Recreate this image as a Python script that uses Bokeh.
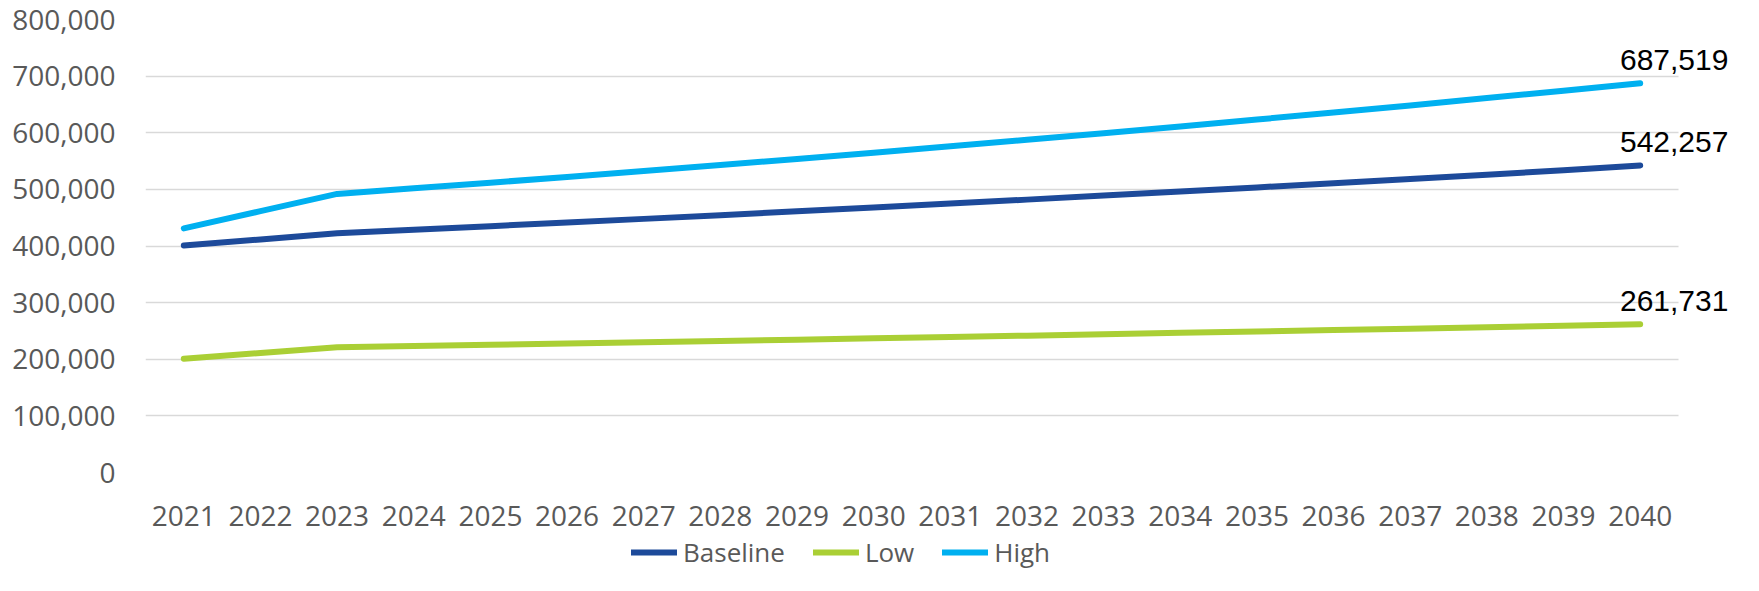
from bokeh.plotting import figure
from bokeh.layouts import column
from bokeh.models import (NumeralTickFormatter, FixedTicker, ColumnDataSource,
                          Legend, LegendItem, Range1d)
from bokeh.core.properties import value
from bokeh.embed import file_html
from bokeh.resources import INLINE

years = [2021, 2022, 2023, 2024, 2025, 2026, 2027, 2028, 2029, 2030,
         2031, 2032, 2033, 2034, 2035, 2036, 2037, 2038, 2039, 2040]

baseline = [401000, 411500, 422500, 428700, 435000, 441400, 447900, 454500,
            461200, 468000, 474900, 481900, 489000, 496200, 503500, 510900,
            518400, 526000, 533700, 542257]
low = [201000, 211000, 221000, 223200, 225400, 227700, 230000, 232300,
       234600, 236900, 239300, 241700, 244100, 246600, 249000, 251500,
       254000, 256600, 259100, 261731]
high = [431000, 461500, 492000, 501800, 511800, 522000, 532400, 543000,
        553800, 564800, 576000, 587500, 599200, 611100, 623300, 635700,
        648300, 661200, 674200, 687519]

series_names = ["Baseline", "Low", "High"]
series_values = [baseline, low, high]
series_colors = ["#1D4A9A", "#AACF35", "#00B0F0"]

y_ticks = [0, 100000, 200000, 300000, 400000, 500000, 600000, 700000, 800000]

# x extent: half a year either side of the data, plus room on the right
# for the end-point labels (grid lines are limited to the data slots)
x_start = years[0] - 0.5
x_end = years[-1] + 0.5
x_view_end = x_end + 0.848

p = figure(x_range=Range1d(x_start, x_view_end),
           y_range=Range1d(0, 800000),
           frame_width=1598, frame_height=453,
           output_backend="svg", toolbar_location=None,
           min_border_left=145, min_border_right=0, min_border_top=19,
           min_border_bottom=60)

p.outline_line_color = None
p.background_fill_color = "white"
p.border_fill_color = "white"

# grid
p.xgrid.grid_line_color = None
p.ygrid.grid_line_color = "#D9D9D9"
p.ygrid.grid_line_width = 1.6
try:
    p.ygrid.cross_bounds = (x_start, x_end)
except Exception:
    p.ygrid.grid_line_color = None
    p.segment(x0=[x_start] * len(y_ticks), x1=[x_end] * len(y_ticks),
              y0=y_ticks, y1=y_ticks, line_color="#D9D9D9", line_width=1.6,
              level="underlay")

# axes
for ax in (p.xaxis[0], p.yaxis[0]):
    ax.axis_line_color = None
    ax.major_tick_line_color = None
    ax.minor_tick_line_color = None
    ax.major_tick_out = 0
    ax.major_tick_in = 0
    ax.major_label_text_font = "Open Sans"
    ax.major_label_text_font_size = "28px"
    ax.major_label_text_color = "#595959"

p.xaxis[0].ticker = FixedTicker(ticks=years)
p.xaxis[0].formatter = NumeralTickFormatter(format="0")
p.xaxis[0].major_label_standoff = 33
p.yaxis[0].ticker = FixedTicker(ticks=y_ticks)
p.yaxis[0].formatter = NumeralTickFormatter(format="0,0")
p.yaxis[0].major_label_standoff = 30

for vals, col in zip(series_values, series_colors):
    p.line(years, vals, line_width=6, color=col,
           line_cap="round", line_join="round")

# end-point data labels
src = ColumnDataSource(dict(
    x=[years[-1]] * 3,
    y=[baseline[-1], low[-1], high[-1]],
    t=[f"{baseline[-1]:,}", f"{low[-1]:,}", f"{high[-1]:,}"],
))
p.text(x="x", y="y", text="t", source=src, x_offset=34, y_offset=-23,
       text_align="center", text_baseline="alphabetic",
       text_font=value("Liberation Sans"), text_font_size="30px",
       text_color="#000000")

# legend strip underneath (its lines lie outside its view, only the legend shows)
lg = figure(width=1743, height=38, x_range=Range1d(0, 1), y_range=Range1d(0, 1),
            output_backend="svg", toolbar_location=None,
            x_axis_location=None, y_axis_location=None,
            min_border_left=0, min_border_right=0, min_border_top=0,
            min_border_bottom=0)
lg.outline_line_color = None
lg.xgrid.visible = False
lg.ygrid.visible = False
lg.background_fill_color = "white"
lg.border_fill_color = "white"

items = []
for name, vals, col in zip(series_names, series_values, series_colors):
    r = lg.line(years, vals, line_width=6, color=col,
                line_cap="round", line_join="round")
    items.append(LegendItem(label=name, renderers=[r]))

legend = Legend(items=items, orientation="horizontal", location=(486, 0),
                border_line_alpha=0, background_fill_alpha=0,
                padding=0, margin=0, spacing=28, glyph_width=46,
                glyph_height=20, label_standoff=6,
                label_text_font="Open Sans", label_text_font_size="26px",
                label_text_color="#595959")
lg.add_layout(legend)

open("out.html", "w").write(file_html(column(p, lg, spacing=0), INLINE))
